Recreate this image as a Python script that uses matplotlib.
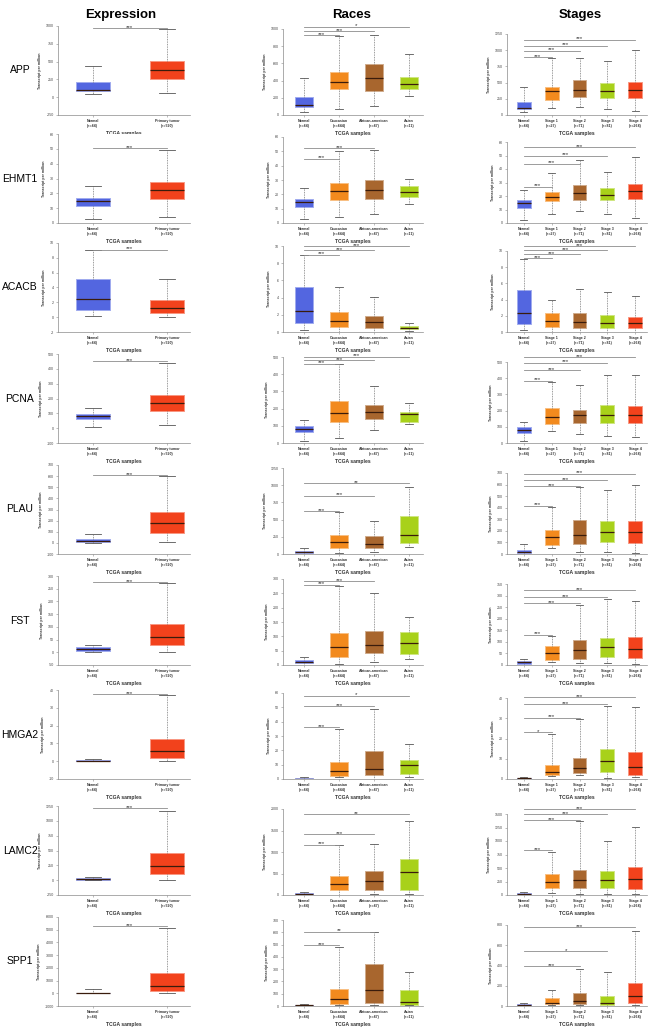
import matplotlib
matplotlib.use("Agg")
import matplotlib.pyplot as plt
from matplotlib.colors import to_rgb

plt.rcParams['font.family'] = ['Liberation Sans', 'DejaVu Sans']

# group labels
EXPR_GROUPS = ["Normal\n(n=44)", "Primary tumor\n(n=520)"]
RACE_GROUPS = ["Normal\n(n=44)", "Caucasian\n(n=444)", "African-american\n(n=47)", "Asian\n(n=11)"]
STAGE_GROUPS = ["Normal\n(n=44)", "Stage 1\n(n=27)", "Stage 2\n(n=71)", "Stage 3\n(n=81)", "Stage 4\n(n=264)"]

# box stats: [whisker low, q1, median, q3, whisker high]
# sig: [index of group compared with Normal, bar height, stars]
APP_EXPR = [[38, 94, 108, 212, 434], [61, 259, 387, 514, 953]]
APP_EXPR_TICKS = [-250, 0, 250, 500, 750, 1000]
APP_EXPR_SIG = [[1, 967, '***']]
APP_RACE = [[38, 98, 116, 210, 432], [64, 304, 383, 503, 913], [101, 274, 425, 590, 925], [218, 301, 361, 444, 707]]
APP_RACE_TICKS = [0, 200, 400, 600, 800, 1000]
APP_RACE_SIG = [[1, 925, '***'], [2, 974, '***'], [3, 1026, '*']]
APP_STAGE = [[39, 87, 102, 208, 426], [111, 232, 368, 426, 872], [121, 281, 392, 547, 872], [87, 257, 378, 499, 828], [63, 257, 388, 513, 1008]]
APP_STAGE_TICKS = [0, 250, 500, 750, 1000, 1250]
APP_STAGE_SIG = [[1, 896, '***'], [2, 993, '***'], [3, 1071, '***'], [4, 1163, '***']]

EHMT1_EXPR = [[2.5, 11.4, 14.5, 16.8, 24.7], [3.9, 16.1, 22, 27.8, 49]]
EHMT1_EXPR_TICKS = [0, 10, 20, 30, 40, 50, 60]
EHMT1_EXPR_SIG = [[1, 50.5, '***']]
EHMT1_RACE = [[2.5, 11.4, 14.5, 16.8, 24.7], [4.2, 16, 22, 28, 50], [6.5, 17, 23, 30, 51], [13.5, 18, 21.5, 26, 31]]
EHMT1_RACE_TICKS = [0, 10, 20, 30, 40, 50, 60]
EHMT1_RACE_SIG = [[1, 45, '***'], [2, 52, '***']]
EHMT1_STAGE = [[2.5, 11.4, 14.5, 16.8, 24.7], [6.8, 16, 19, 23, 37], [9.2, 17, 22, 28, 47], [7, 17, 21, 26, 38], [4, 18, 24, 29, 49]]
EHMT1_STAGE_TICKS = [0, 10, 20, 30, 40, 50, 60]
EHMT1_STAGE_SIG = [[1, 27, '***'], [2, 44, '***'], [3, 50, '***'], [4, 56, '***']]

ACACB_EXPR = [[0.2, 1.0, 2.4, 5.2, 9.0], [0.05, 0.57, 1.2, 2.3, 5.1]]
ACACB_EXPR_TICKS = [-2, 0, 2, 4, 6, 8, 10]
ACACB_EXPR_SIG = [[1, 9.1, '***']]
ACACB_RACE = [[0.2, 1.0, 2.4, 5.2, 8.9], [0.05, 0.6, 1.3, 2.35, 5.25], [0.05, 0.5, 1.2, 1.9, 4.1], [0.1, 0.3, 0.5, 0.75, 1.1]]
ACACB_RACE_TICKS = [0, 2, 4, 6, 8, 10]
ACACB_RACE_SIG = [[1, 9.0, '***'], [2, 9.5, '***'], [3, 10.0, '***']]
ACACB_STAGE = [[0.2, 1.0, 2.3, 5.2, 9.0], [0.05, 0.6, 1.3, 2.4, 3.9], [0.05, 0.5, 1.2, 2.4, 5.25], [0.05, 0.5, 1.1, 2.1, 4.9], [0.05, 0.5, 1.1, 1.9, 4.5]]
ACACB_STAGE_TICKS = [0, 2, 4, 6, 8, 10]
ACACB_STAGE_SIG = [[1, 9.15, '***'], [2, 9.6, '***'], [3, 10.1, '***'], [4, 10.6, '***']]

PCNA_EXPR = [[10, 62, 81, 98, 133], [23, 113, 167, 226, 440]]
PCNA_EXPR_TICKS = [-100, 0, 100, 200, 300, 400, 500]
PCNA_EXPR_SIG = [[1, 452, '***']]
PCNA_RACE = [[10, 62, 81, 98, 133], [29, 124, 174, 243, 458], [77, 137, 181, 220, 330], [108, 120, 168, 178, 232]]
PCNA_RACE_TICKS = [0, 100, 200, 300, 400, 500]
PCNA_RACE_SIG = [[1, 462, '***'], [2, 482, '***'], [3, 502, '***']]
PCNA_STAGE = [[10, 60, 80, 101, 132], [76, 117, 160, 214, 376], [55, 121, 170, 201, 359], [43, 123, 170, 234, 421], [37, 121, 170, 230, 421]]
PCNA_STAGE_TICKS = [0, 100, 200, 300, 400, 500]
PCNA_STAGE_SIG = [[1, 385, '***'], [2, 448, '***'], [3, 495, '***'], [4, 530, '***']]

PLAU_EXPR = [[0, 10, 20, 36, 78], [5, 93, 176, 274, 600]]
PLAU_EXPR_TICKS = [-100, 0, 100, 200, 300, 400, 500, 600, 700]
PLAU_EXPR_SIG = [[1, 610, '***']]
PLAU_RACE = [[0, 19, 29, 43, 91], [10, 91, 177, 281, 606], [24, 91, 143, 258, 482], [105, 162, 282, 553, 978]]
PLAU_RACE_TICKS = [0, 250, 500, 750, 1000, 1250]
PLAU_RACE_SIG = [[1, 625, '***'], [2, 849, '***'], [3, 1031, '**']]
PLAU_STAGE = [[3, 12, 20, 35, 84], [55, 81, 147, 211, 410], [20, 90, 162, 292, 575], [14, 107, 194, 286, 549], [6, 98, 194, 289, 598]]
PLAU_STAGE_TICKS = [0, 100, 200, 300, 400, 500, 600, 700]
PLAU_STAGE_SIG = [[1, 419, '***'], [2, 584, '***'], [3, 639, '***'], [4, 694, '***']]

FST_EXPR = [[0, 6, 13, 20, 29], [1, 29, 62, 110, 272]]
FST_EXPR_TICKS = [-50, 0, 50, 100, 150, 200, 250, 300]
FST_EXPR_SIG = [[1, 276, '***']]
FST_RACE = [[1, 6, 12, 17, 29], [2, 28, 63, 110, 275], [12, 43, 70, 118, 252], [20, 40, 78, 116, 166]]
FST_RACE_TICKS = [0, 50, 100, 150, 200, 250, 300]
FST_RACE_SIG = [[1, 280, '***'], [2, 293, '***']]
FST_STAGE = [[1, 5, 12, 18, 28], [11, 22, 50, 80, 127], [7, 27, 63, 108, 260], [7, 36, 77, 116, 286], [3, 32, 69, 123, 278]]
FST_STAGE_TICKS = [0, 50, 100, 150, 200, 250, 300, 350]
FST_STAGE_SIG = [[1, 131, '***'], [2, 268, '***'], [3, 292, '***'], [4, 323, '***']]

HMGA2_EXPR = [[0, 0.1, 0.3, 0.5, 1.2], [0, 2, 5.5, 12.5, 37]]
HMGA2_EXPR_TICKS = [-10, 0, 10, 20, 30, 40]
HMGA2_EXPR_SIG = [[1, 37.8, '***']]
HMGA2_RACE = [[0, 0.1, 0.3, 0.6, 1.2], [1.1, 2, 5.5, 12, 35], [0.2, 3, 7, 19.2, 49], [1.4, 3.4, 9.6, 13.5, 24.2]]
HMGA2_RACE_TICKS = [0, 10, 20, 30, 40, 50, 60]
HMGA2_RACE_SIG = [[1, 36.3, '***'], [2, 50.7, '***'], [3, 58, '*']]
HMGA2_STAGE = [[0, 0.1, 0.3, 0.5, 1.2], [1.3, 2.1, 3.6, 7, 22], [1.8, 3.1, 5.4, 10.5, 29.7], [0.5, 3.4, 9, 14.9, 36.2], [0.8, 2.1, 6, 13.3, 35.4]]
HMGA2_STAGE_TICKS = [0, 10, 20, 30, 40]
HMGA2_STAGE_SIG = [[1, 23.1, '*'], [2, 30.2, '***'], [3, 36.9, '***'], [4, 40.5, '***']]

LAMC2_EXPR = [[0, 10, 20, 30, 50], [0, 100, 240, 455, 1170]]
LAMC2_EXPR_TICKS = [-250, 0, 250, 500, 750, 1000, 1250]
LAMC2_EXPR_SIG = [[1, 1210, '***']]
LAMC2_RACE = [[5, 15, 28, 40, 75], [8, 107, 260, 445, 1158], [30, 115, 322, 552, 1196], [30, 107, 544, 843, 1725]]
LAMC2_RACE_TICKS = [0, 500, 1000, 1500, 2000]
LAMC2_RACE_SIG = [[1, 1173, '***'], [2, 1418, '***'], [3, 1886, '**']]
LAMC2_STAGE = [[2, 10, 18, 30, 60], [30, 122, 245, 398, 803], [18, 122, 282, 460, 1373], [12, 122, 282, 447, 1005], [12, 104, 294, 521, 1262]]
LAMC2_STAGE_TICKS = [0, 250, 500, 750, 1000, 1250, 1500]
LAMC2_STAGE_SIG = [[1, 827, '***'], [2, 1385, '***'], [3, 1495, '***'], [4, 1593, '***']]

SPP1_EXPR = [[0, 5, 15, 40, 300], [0, 170, 600, 1560, 5130]]
SPP1_EXPR_TICKS = [-1000, 0, 1000, 2000, 3000, 4000, 5000, 6000]
SPP1_EXPR_SIG = [[1, 5300, '***']]
SPP1_RACE = [[0, 2, 5, 10, 19], [5, 19, 59, 137, 483], [11, 24, 129, 338, 600], [5, 11, 32, 129, 273]]
SPP1_RACE_TICKS = [0, 100, 200, 300, 400, 500, 600, 700]
SPP1_RACE_SIG = [[1, 493, '***'], [2, 606, '**']]
SPP1_STAGE = [[0, 3, 8, 15, 33], [6, 20, 33, 82, 160], [6, 16, 52, 127, 369], [3, 10, 29, 95, 336], [6, 29, 98, 228, 744]]
SPP1_STAGE_TICKS = [0, 200, 400, 600, 800]
SPP1_STAGE_SIG = [[2, 395, '***'], [3, 542, '*'], [4, 777, '***']]

ROWS = [
    ("APP", (APP_EXPR, APP_EXPR_TICKS, APP_EXPR_SIG), (APP_RACE, APP_RACE_TICKS, APP_RACE_SIG), (APP_STAGE, APP_STAGE_TICKS, APP_STAGE_SIG)),
    ("EHMT1", (EHMT1_EXPR, EHMT1_EXPR_TICKS, EHMT1_EXPR_SIG), (EHMT1_RACE, EHMT1_RACE_TICKS, EHMT1_RACE_SIG), (EHMT1_STAGE, EHMT1_STAGE_TICKS, EHMT1_STAGE_SIG)),
    ("ACACB", (ACACB_EXPR, ACACB_EXPR_TICKS, ACACB_EXPR_SIG), (ACACB_RACE, ACACB_RACE_TICKS, ACACB_RACE_SIG), (ACACB_STAGE, ACACB_STAGE_TICKS, ACACB_STAGE_SIG)),
    ("PCNA", (PCNA_EXPR, PCNA_EXPR_TICKS, PCNA_EXPR_SIG), (PCNA_RACE, PCNA_RACE_TICKS, PCNA_RACE_SIG), (PCNA_STAGE, PCNA_STAGE_TICKS, PCNA_STAGE_SIG)),
    ("PLAU", (PLAU_EXPR, PLAU_EXPR_TICKS, PLAU_EXPR_SIG), (PLAU_RACE, PLAU_RACE_TICKS, PLAU_RACE_SIG), (PLAU_STAGE, PLAU_STAGE_TICKS, PLAU_STAGE_SIG)),
    ("FST", (FST_EXPR, FST_EXPR_TICKS, FST_EXPR_SIG), (FST_RACE, FST_RACE_TICKS, FST_RACE_SIG), (FST_STAGE, FST_STAGE_TICKS, FST_STAGE_SIG)),
    ("HMGA2", (HMGA2_EXPR, HMGA2_EXPR_TICKS, HMGA2_EXPR_SIG), (HMGA2_RACE, HMGA2_RACE_TICKS, HMGA2_RACE_SIG), (HMGA2_STAGE, HMGA2_STAGE_TICKS, HMGA2_STAGE_SIG)),
    ("LAMC2", (LAMC2_EXPR, LAMC2_EXPR_TICKS, LAMC2_EXPR_SIG), (LAMC2_RACE, LAMC2_RACE_TICKS, LAMC2_RACE_SIG), (LAMC2_STAGE, LAMC2_STAGE_TICKS, LAMC2_STAGE_SIG)),
    ("SPP1", (SPP1_EXPR, SPP1_EXPR_TICKS, SPP1_EXPR_SIG), (SPP1_RACE, SPP1_RACE_TICKS, SPP1_RACE_SIG), (SPP1_STAGE, SPP1_STAGE_TICKS, SPP1_STAGE_SIG)),
]

BLUE, RED, ORANGE, BROWN, GREEN = '#5366e0', '#f2421c', '#f28a1e', '#a8662e', '#a8d11a'
EXPR_COLORS = [BLUE, RED]
RACE_COLORS = [BLUE, ORANGE, BROWN, GREEN]
STAGE_COLORS = [BLUE, ORANGE, BROWN, GREEN, RED]

W, H = 653, 1027
ROW_TOP = [26, 134, 243, 354, 465, 576, 690, 806, 917]
ROW_H = 89
# column: left px, width px, top offset px, xlim, box width, labels, colours
COLS = [
    (58, 132, 0, (-0.47, 1.31), 0.45, EXPR_GROUPS, EXPR_COLORS),
    (283, 140, 3, (-0.6, 3.4), 0.5, RACE_GROUPS, RACE_COLORS),
    (507, 140, 8, (-0.61, 4.43), 0.5, STAGE_GROUPS, STAGE_COLORS),
]


def lighten(c, f=0.45):
    r, g, b = to_rgb(c)
    return (r + (1 - r) * f, g + (1 - g) * f, b + (1 - b) * f)


def panel(ax, stats, ticks, sig, col):
    _, _, _, xlim, bw, labels, colors = col
    bstats = [dict(whislo=s[0], q1=s[1], med=s[2], q3=s[3], whishi=s[4], fliers=[]) for s in stats]
    bp = ax.bxp(bstats, positions=list(range(len(stats))), widths=bw, patch_artist=True,
                showfliers=False,
                whiskerprops=dict(color='#7a7a7a', lw=0.6, linestyle=(0, (1, 1))),
                capprops=dict(color='#555555', lw=0.6),
                medianprops=dict(color='#3a1c0c', lw=0.9))
    for patch, c in zip(bp['boxes'], colors):
        patch.set_facecolor(c)
        patch.set_edgecolor(lighten(c))
        patch.set_linewidth(0.7)
    ax.set_xlim(*xlim)
    ax.set_ylim(ticks[0], ticks[-1])
    ax.set_yticks(ticks)
    ax.set_yticklabels([str(t) for t in ticks], fontsize=2.6, color='#444444')
    ax.set_xticks(list(range(len(stats))))
    ax.set_xticklabels(labels, fontsize=2.6, fontweight='bold', color='#333333', linespacing=1.3)
    for k in ('top', 'right'):
        ax.spines[k].set_visible(False)
    for k in ('left', 'bottom'):
        ax.spines[k].set_color('#8a8a8a')
        ax.spines[k].set_linewidth(0.5)
    ax.tick_params(length=1.5, width=0.4, color='#8a8a8a', pad=1.2)
    ax.set_xlabel('TCGA samples', fontsize=3.6, fontweight='bold', color='#333333', labelpad=2.5)
    ax.set_ylabel('Transcript per million', fontsize=2.6, fontweight='bold', color='#333333', labelpad=3)
    for j, h, s in sig:
        ax.plot([0, j], [h, h], color='#8c8c8c', lw=0.6, clip_on=False)
        ax.annotate(s, (j / 2, h), xytext=(0, 0.6), textcoords='offset points',
                    ha='center', va='center', fontsize=4.5, color='#333333', annotation_clip=False)


fig = plt.figure(figsize=(W / 100, H / 100), dpi=100)

for title, x in (("Expression", 121), ("Races", 352), ("Stages", 580)):
    fig.text(x / W, 1 - 15 / H, title, ha='center', va='center', fontsize=9.5, fontweight='bold')

for r, (gene, *panels) in enumerate(ROWS):
    top = ROW_TOP[r]
    fig.text(20 / W, 1 - (top + ROW_H / 2) / H, gene, ha='center', va='center', fontsize=7.5)
    for col, (stats, ticks, sig) in zip(COLS, panels):
        off = col[2]
        ax = fig.add_axes([col[0] / W, 1 - (top + ROW_H) / H, col[1] / W, (ROW_H - off) / H])
        panel(ax, stats, ticks, sig, col)

fig.savefig('out.png', dpi=100)
